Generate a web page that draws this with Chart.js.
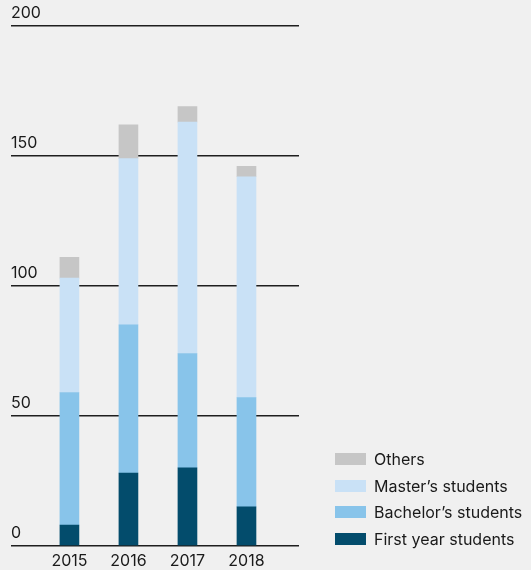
<!DOCTYPE html>
<html lang="en">
<head>
<meta charset="UTF-8">
<title>Students by year</title>
<script src="https://cdn.jsdelivr.net/npm/chart.js"></script>
<style>
  body { margin: 0; background: #f0f0f0; }
  .wrap { position: relative; width: 531px; height: 570px; }
  #legend { position: absolute; left: 335px; top: 446px; font: 16px Inter, sans-serif; color: #1a1a1a; }
  #legend .item { display: flex; align-items: center; height: 26.6px; }
  #legend .box { width: 31px; height: 12px; margin-right: 8px; }
</style>
</head>
<body>
<div class="wrap">
  <canvas id="chart" width="531" height="570"></canvas>
  <div id="legend"></div>
</div>
<script>
// student counts per year
const years = [2015, 2016, 2017, 2018];
const firstYear = [8, 28, 30, 15];
const bachelors = [51, 57, 44, 42];
const masters = [44, 64, 89, 85];
const others = [8, 13, 6, 4];

const yTicks = [0, 50, 100, 150, 200];

function toPoints(values) {
  return years.map((y, i) => ({ x: y, y: values[i] }));
}

const datasets = [
  { label: 'First year students', data: toPoints(firstYear), backgroundColor: '#034c6c' },
  { label: 'Bachelor\u2019s students', data: toPoints(bachelors), backgroundColor: '#88c4ea' },
  { label: 'Master\u2019s students', data: toPoints(masters), backgroundColor: '#c9e1f6' },
  { label: 'Others', data: toPoints(others), backgroundColor: '#c6c6c6' }
];

const chart = new Chart(document.getElementById('chart'), {
  type: 'bar',
  data: { datasets: datasets },
  options: {
    responsive: false,
    animation: false,
    barThickness: 19,
    layout: { padding: { left: 11, right: 232, top: 26, bottom: 0 } },
    plugins: { legend: { display: false }, tooltip: { enabled: false } },
    scales: {
      x: {
        type: 'linear',
        stacked: true,
        offset: false,
        min: 2014.01,
        max: 2018.89,
        afterBuildTicks: scale => { scale.ticks = years.map(v => ({ value: v })); },
        afterFit: scale => { scale.height -= 7; },
        grid: { display: false, drawTicks: false },
        border: { display: false },
        ticks: {
          padding: 6,
          color: '#1a1a1a',
          font: { family: 'Inter', size: 16 },
          callback: v => String(v)
        }
      },
      y: {
        stacked: true,
        min: 0,
        max: 200,
        afterBuildTicks: scale => { scale.ticks = yTicks.map(v => ({ value: v })); },
        grid: { color: '#1e1e1e', lineWidth: 1.5, drawTicks: false },
        border: { display: false },
        ticks: {
          mirror: true,
          padding: 0,
          labelOffset: -13,
          color: '#1a1a1a',
          font: { family: 'Inter', size: 16 }
        }
      }
    }
  }
});

// legend, top entry is the top of the stack
const legend = document.getElementById('legend');
datasets.slice().reverse().forEach(ds => {
  const item = document.createElement('div');
  item.className = 'item';
  const box = document.createElement('span');
  box.className = 'box';
  box.style.background = ds.backgroundColor;
  item.appendChild(box);
  item.appendChild(document.createTextNode(ds.label));
  legend.appendChild(item);
});
</script>
</body>
</html>
